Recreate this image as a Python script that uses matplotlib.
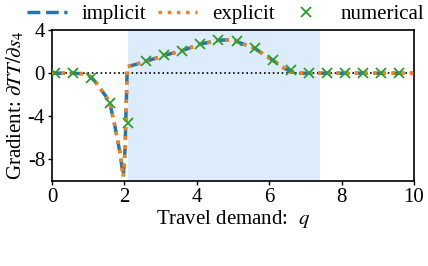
import matplotlib
matplotlib.use("Agg")
import matplotlib.pyplot as plt

plt.rcParams['font.family'] = ['Liberation Serif', 'DejaVu Serif']
plt.rcParams['mathtext.fontset'] = 'stix'

# Analytic curve (implicit == explicit)
q_curve = [0.0, 0.5, 0.9, 1.05, 1.2, 1.37, 1.5, 1.6, 1.74, 1.88, 1.97, 2.02, 2.05, 2.08,
           2.3, 2.6, 3.1, 3.6, 4.1, 4.6, 4.9, 5.1, 5.6, 6.1, 6.4, 6.6, 6.8, 7.5, 10.0]
g_curve = [0.0, 0.0, -0.05, -0.28, -0.8, -1.6, -2.2, -2.8, -4.95, -7.4, -9.6, -7.0, -3.0, 0.6,
           0.8, 1.1, 1.65, 2.1, 2.7, 3.05, 3.1, 2.95, 2.3, 1.2, 0.5, 0.15, 0.0, 0.0, 0.0]

# Numerical estimates
q_num = [0.08, 0.58, 1.08, 1.6, 2.1, 2.6, 3.1, 3.6, 4.1, 4.6, 5.1, 5.6, 6.1, 6.6, 7.1,
         7.6, 8.1, 8.6, 9.1, 9.6]
g_num = [0.0, 0.0, -0.45, -2.8, -4.6, 1.1, 1.65, 2.1, 2.75, 3.05, 2.95, 2.3, 1.2, 0.25, 0.0,
         0.0, 0.0, 0.0, 0.0, 0.0]

span_lo, span_hi = 2.09, 7.4

FS = 15

fig = plt.figure(figsize=(4.28, 2.66), dpi=100)
ax = fig.add_axes([0.1215, 0.3195, 0.8455, 0.5675])

ax.axvspan(span_lo, span_hi, color='#ddecfc', lw=0, zorder=0)
ax.axhline(0, color='black', ls=':', lw=1.2, zorder=1)

ax.plot(q_curve, g_curve, ls='--', color='#1f77b4', lw=2.5, label='implicit', zorder=2)
ax.plot(q_curve, g_curve, ls=':', color='#ff7f0e', lw=2.5, label='explicit', zorder=3)
ax.plot(q_num, g_num, ls='none', marker='x', color='#2ca02c', ms=7.5, mew=1.3,
        label='numerical', zorder=4)

ax.set_xlim(0, 10)
ax.set_ylim(-10, 4)
ax.set_xticks([0, 2, 4, 6, 8, 10])
ax.set_yticks([4, 0, -4, -8])
ax.set_yticklabels(['4', '0', '-4', '-8'])
ax.tick_params(labelsize=FS, length=3, width=1, pad=2)
for s in ax.spines.values():
    s.set_linewidth(1.2)

ax.set_xlabel('Travel demand:  $q$', fontsize=FS, labelpad=1)
ax.set_ylabel(r'Gradient: $\partial TT/\partial s_4$', fontsize=FS, labelpad=1)

ax.legend(loc='lower center', bbox_to_anchor=(0.48, 0.985), ncol=3, frameon=False,
          fontsize=FS, handlelength=1.9, columnspacing=0.55, handletextpad=0.72,
          borderaxespad=0)

fig.text(0.55, -0.098, 'Gradient of the travel time', fontsize=17, ha='center',
         va='bottom', color='black')

fig.savefig('out.png', dpi=100)
